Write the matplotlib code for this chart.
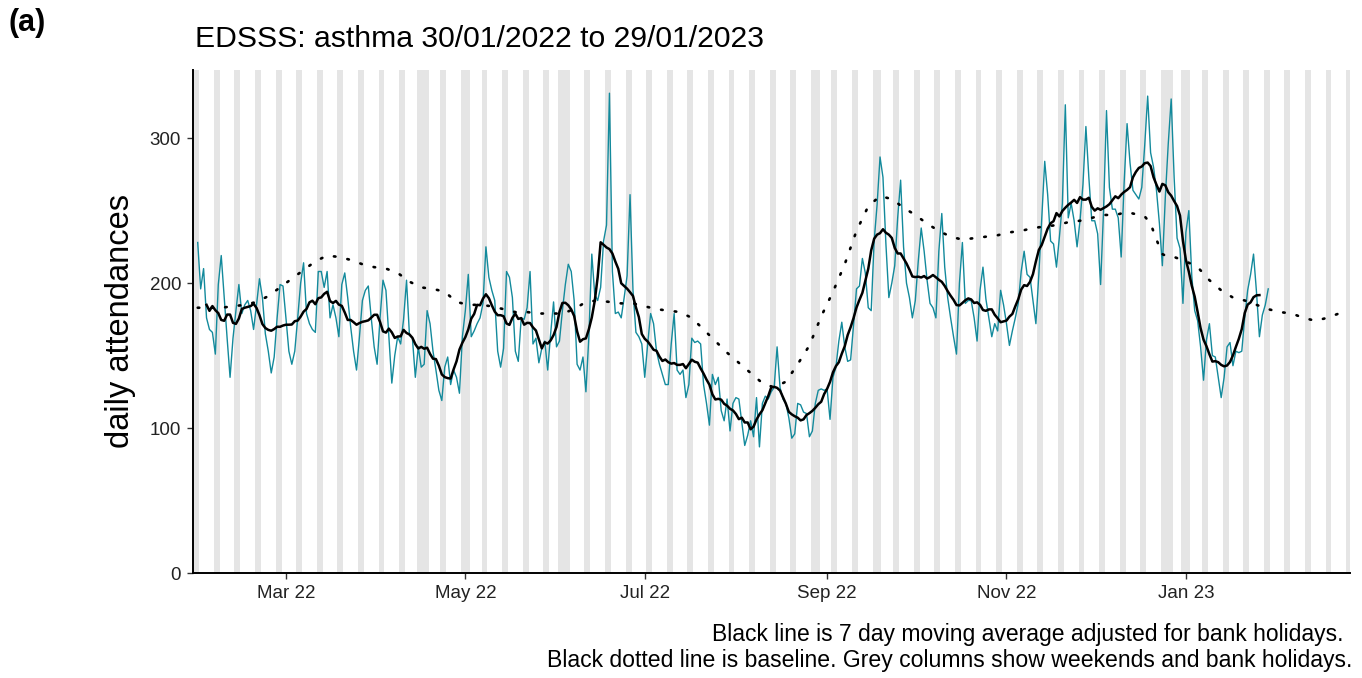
import numpy as np
import pandas as pd
import matplotlib
matplotlib.use("Agg")
import matplotlib.pyplot as plt
import matplotlib.dates as mdates

plt.rcParams['font.family'] = ['Liberation Sans', 'DejaVu Sans']

# ---------------- data ----------------
start_date = "2022-01-30"
daily_attendances = [
    228, 196, 210, 176, 168, 166, 151, 199, 219, 190,
    162, 135, 162, 181, 199, 179, 185, 188, 181, 168,
    185, 203, 190, 165, 153, 138, 149, 176, 199, 198,
    176, 153, 144, 153, 176, 200, 214, 179, 172, 168,
    166, 208, 208, 197, 208, 176, 185, 176, 163, 199,
    207, 190, 170, 153, 140, 163, 188, 195, 198, 176,
    156, 144, 176, 202, 195, 163, 131, 150, 163, 158,
    175, 202, 164, 162, 135, 156, 142, 144, 181, 172,
    153, 140, 126, 119, 142, 149, 130, 140, 135, 124,
    163, 181, 206, 163, 167, 172, 176, 186, 225, 204,
    195, 188, 153, 142, 155, 208, 204, 190, 153, 146,
    176, 175, 183, 208, 158, 162, 145, 155, 160, 140,
    165, 187, 156, 160, 181, 199, 213, 208, 188, 144,
    140, 149, 125, 163, 220, 192, 188, 197, 229, 240,
    331, 208, 179, 180, 176, 190, 205, 261, 195, 166,
    163, 158, 135, 158, 179, 172, 153, 144, 137, 130,
    130, 158, 179, 140, 137, 140, 121, 130, 162, 159,
    160, 158, 130, 117, 102, 137, 130, 135, 112, 105,
    120, 98, 117, 121, 120, 104, 88, 95, 105, 94,
    121, 87, 117, 122, 120, 125, 128, 156, 128, 120,
    117, 107, 93, 96, 117, 116, 111, 110, 94, 98,
    117, 126, 127, 126, 127, 106, 135, 142, 160, 173,
    156, 146, 147, 171, 196, 198, 217, 207, 183, 181,
    229, 254, 287, 273, 227, 190, 200, 212, 245, 271,
    225, 200, 190, 176, 188, 215, 238, 222, 202, 186,
    183, 176, 222, 248, 211, 190, 176, 163, 151, 200,
    228, 186, 188, 188, 176, 160, 195, 211, 189, 176,
    163, 172, 167, 195, 185, 172, 157, 167, 176, 186,
    208, 222, 206, 204, 188, 172, 206, 245, 284, 261,
    229, 227, 211, 232, 255, 323, 245, 255, 243, 225,
    243, 268, 308, 273, 243, 243, 234, 199, 250, 319,
    266, 251, 251, 245, 218, 269, 310, 283, 264, 261,
    258, 266, 295, 329, 290, 280, 264, 241, 212, 259,
    296, 327, 273, 231, 224, 186, 235, 250, 205, 181,
    174, 156, 133, 161, 172, 150, 149, 135, 121, 135,
    156, 159, 143, 153, 152, 153, 176, 195, 206, 220,
    194, 163, 178, 185, 196,
]

# baseline: day offset from start_date, value
baseline_day = [0, 4, 8, 12, 16, 20, 24, 28, 32, 36, 40, 44, 48, 52, 56, 60,
                64, 68, 72, 76, 80, 84, 88, 92, 96, 100, 104, 108, 112, 116,
                120, 124, 128, 132, 136, 140, 144, 148, 152, 156, 160, 164,
                168, 172, 176, 180, 184, 188, 192, 196, 200, 204, 208, 212,
                216, 220, 224, 228, 232, 236, 240, 244, 248, 252, 256, 260,
                264, 268, 272, 276, 280, 284, 288, 292, 296, 300, 304, 308,
                312, 316, 320, 322, 324, 326, 328, 330, 332, 336, 340, 344,
                348, 352, 356, 360, 364, 368, 372, 376, 380, 384, 388]
baseline_value = [183, 183, 183, 184, 185, 187, 191, 197, 203, 209, 215, 219,
                  218, 216, 213, 211, 210, 207, 201, 197, 196, 194, 187, 185,
                  185, 184, 182, 180, 180, 179, 179, 179, 182, 187, 188, 187,
                  186, 186, 184, 182, 181, 180, 176, 168, 160, 152, 145, 138,
                  131, 128, 132, 144, 157, 177, 194, 213, 236, 253, 260, 258,
                  252, 247, 241, 236, 232, 230, 231, 232, 233, 235, 236, 238,
                  239, 240, 242, 243, 245, 247, 247, 249, 247, 246, 241, 230,
                  220, 218, 218, 215, 211, 202, 195, 190, 188, 185, 182, 180,
                  179, 176, 174, 176, 179]

bank_holidays = ["2022-04-15", "2022-04-18", "2022-05-02", "2022-06-02",
                 "2022-06-03", "2022-08-29", "2022-09-19", "2022-12-26",
                 "2022-12-27", "2023-01-02"]

tick_dates = ["2022-03-01", "2022-05-01", "2022-07-01", "2022-09-01",
              "2022-11-01", "2023-01-01"]
tick_labels = ["Mar 22", "May 22", "Jul 22", "Sep 22", "Nov 22", "Jan 23"]
y_ticks = [0, 100, 200, 300]

title = "EDSSS: asthma 30/01/2022 to 29/01/2023"
caption1 = "Black line is 7 day moving average adjusted for bank holidays."
caption2 = "Black dotted line is baseline. Grey columns show weekends and bank holidays."

# ---------------- derived ----------------
start = pd.Timestamp(start_date)
dates = pd.date_range(start, periods=len(daily_attendances), freq="D")
x = mdates.date2num(dates)
moving_avg = pd.Series(daily_attendances).rolling(7, center=True).mean()
bx = mdates.date2num(start + pd.to_timedelta(baseline_day, unit="D"))
x0 = mdates.date2num(start)

W, H = 1362, 678
fig = plt.figure(figsize=(W / 100, H / 100), dpi=100)
ax = fig.add_axes([193 / W, 1 - 573 / H, (1350 - 193) / W, (573 - 70) / H])

xmin, xmax = x0 - 1.6, x0 + 391.8
ymin, ymax = 0, 347

# grey columns for weekends and bank holidays
bh = set(pd.to_datetime(bank_holidays))
for d in pd.date_range(start - pd.Timedelta(days=3), start + pd.Timedelta(days=395)):
    if d.weekday() >= 5 or d in bh:
        c = mdates.date2num(d)
        ax.axvspan(c - 0.5, c + 0.5, color="#E5E5E5", lw=0, zorder=0)

ax.plot(x, daily_attendances, color="#138A9C", lw=1.0, zorder=2)
ax.plot(bx, baseline_value, color="black", lw=1.9,
        linestyle=(0, (0.6, 4.6)), dash_capstyle="round", zorder=3)
ax.plot(x, moving_avg, color="black", lw=1.8, zorder=4)

ax.set_xlim(xmin, xmax)
ax.set_ylim(ymin, ymax)
ax.set_xticks(mdates.date2num(pd.to_datetime(tick_dates)))
ax.set_xticklabels(tick_labels)
ax.set_yticks(y_ticks)
for s in ["top", "right"]:
    ax.spines[s].set_visible(False)
for s in ["left", "bottom"]:
    ax.spines[s].set_linewidth(1.4)
    ax.spines[s].set_color("black")
ax.tick_params(axis="both", length=4.5, width=1.0, color="#333333",
               labelsize=13.5, labelcolor="#222222", pad=4)
ax.set_ylabel("daily attendances", fontsize=23.5, labelpad=10)

fig.text(195 / W, 1 - 39 / H, title, fontsize=21.7, ha="left", va="center")
fig.text(8 / W, 1 - 23 / H, "(a)", fontsize=22, fontweight="bold",
         ha="left", va="center")
fig.text(1343 / W, 1 - 635 / H, caption1, fontsize=16.5, ha="right", va="center")
fig.text(1352 / W, 1 - 661 / H, caption2, fontsize=16.6, ha="right", va="center")

fig.savefig("out.png", dpi=100)
